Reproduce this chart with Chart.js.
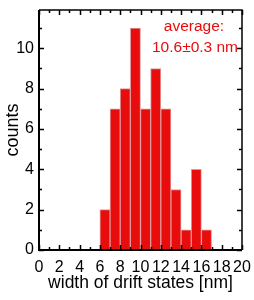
<!DOCTYPE html>
<html>
<head>
<meta charset="utf-8">
<script src="https://cdn.jsdelivr.net/npm/chart.js@4.4.1/dist/chart.umd.min.js"></script>
<style>
    html, body { margin: 0; padding: 0; background: #fff; }
    #wrap { width: 254px; height: 300px; }
</style>
</head>
<body>
<div id="wrap"><canvas id="hist"></canvas></div>
<script>
// ===== DATA =====
const binStarts = [6, 7, 8, 9, 10, 11, 12, 13, 14, 15, 16];
const counts = [2, 7, 8, 11, 7, 9, 7, 3, 1, 4, 1];
const binWidth = 1;
const xTicks = [0, 2, 4, 6, 8, 10, 12, 14, 16, 18, 20];
const yTicks = [0, 2, 4, 6, 8, 10];
const noteLines = ['average:', '10.6\u00b10.3 nm'];

const RED = 'rgb(232, 12, 12)';
const FONT = 'Arial, "Liberation Sans", sans-serif';

// inward ticks + frame, like the original plot
const framePlugin = {
    id: 'frame',
    afterDraw(chart) {
        const { ctx, chartArea: a, scales: { x, y } } = chart;
        ctx.save();
        ctx.strokeStyle = '#000';

        // major / minor ticks on all four sides
        ctx.lineWidth = 1.5;
        for (let v = 0; v <= 20; v++) {
            const len = v % 2 === 0 ? 5 : 3;
            const px = Math.round(x.getPixelForValue(v)) + 0.5;
            ctx.beginPath();
            ctx.moveTo(px, a.bottom); ctx.lineTo(px, a.bottom - len);
            ctx.moveTo(px, a.top); ctx.lineTo(px, a.top + len);
            ctx.stroke();
        }
        for (let v = 0; v <= 11; v++) {
            const len = v % 2 === 0 ? 5 : 3;
            const py = Math.round(y.getPixelForValue(v)) + 0.5;
            ctx.beginPath();
            ctx.moveTo(a.left, py); ctx.lineTo(a.left + len, py);
            ctx.moveTo(a.right, py); ctx.lineTo(a.right - len, py);
            ctx.stroke();
        }

        // box
        ctx.lineWidth = 1.5;
        ctx.beginPath();
        ctx.moveTo(a.left, a.top); ctx.lineTo(a.right, a.top); ctx.lineTo(a.right, a.bottom);
        ctx.stroke();
        ctx.lineWidth = 2;
        ctx.beginPath();
        ctx.moveTo(a.left, a.top); ctx.lineTo(a.left, a.bottom); ctx.lineTo(a.right, a.bottom);
        ctx.stroke();

        // annotation
        ctx.fillStyle = RED;
        ctx.font = '15.5px ' + FONT;
        ctx.textAlign = 'center';
        ctx.textBaseline = 'middle';
        ctx.fillText(noteLines[0], a.left + 155, 27);
        ctx.fillText(noteLines[1], a.left + 156, 48);
        ctx.restore();
    }
};

new Chart(document.getElementById('hist'), {
    type: 'bar',
    data: {
        datasets: [{
            data: binStarts.map((s, i) => ({ x: s + binWidth / 2, y: counts[i] })),
            backgroundColor: RED,
            borderColor: 'rgb(225, 150, 150)',
            borderWidth: 1,
            barPercentage: 1,
            categoryPercentage: 1
        }]
    },
    options: {
        responsive: true,
        maintainAspectRatio: false,
        animation: false,
        layout: { padding: { top: 10, right: 12, left: 0, bottom: 0 } },
        plugins: {
            legend: { display: false },
            tooltip: { enabled: false }
        },
        scales: {
            x: {
                type: 'linear',
                min: 0,
                max: 20,
                offset: false,
                grid: { display: false, drawTicks: false },
                border: { display: false },
                afterBuildTicks: scale => { scale.ticks = xTicks.map(v => ({ value: v })); },
                ticks: {
                    autoSkip: false,
                    maxRotation: 0,
                    padding: 8,
                    color: '#000',
                    font: { family: FONT, size: 16 }
                },
                title: {
                    display: true,
                    text: 'width of drift states [nm]',
                    color: '#000',
                    font: { family: FONT, size: 17.5 },
                    padding: { top: 0, bottom: 6 }
                },
                afterFit: scale => {
                    scale.height = 50;
                    scale.paddingLeft = 0;
                    scale.paddingRight = 0;
                }
            },
            y: {
                min: 0,
                max: 11.9,
                grid: { display: false, drawTicks: false },
                border: { display: false },
                afterBuildTicks: scale => { scale.ticks = yTicks.map(v => ({ value: v })); },
                ticks: {
                    padding: 5,
                    color: '#000',
                    font: { family: FONT, size: 16 }
                },
                title: {
                    display: true,
                    text: 'counts',
                    color: '#000',
                    font: { family: FONT, size: 18 },
                    padding: { top: 2, bottom: 0 }
                },
                afterFit: scale => {
                    scale.width = 39;
                    scale.paddingTop = 0;
                    scale.paddingBottom = 0;
                }
            }
        }
    },
    plugins: [framePlugin]
});
</script>
</body>
</html>
